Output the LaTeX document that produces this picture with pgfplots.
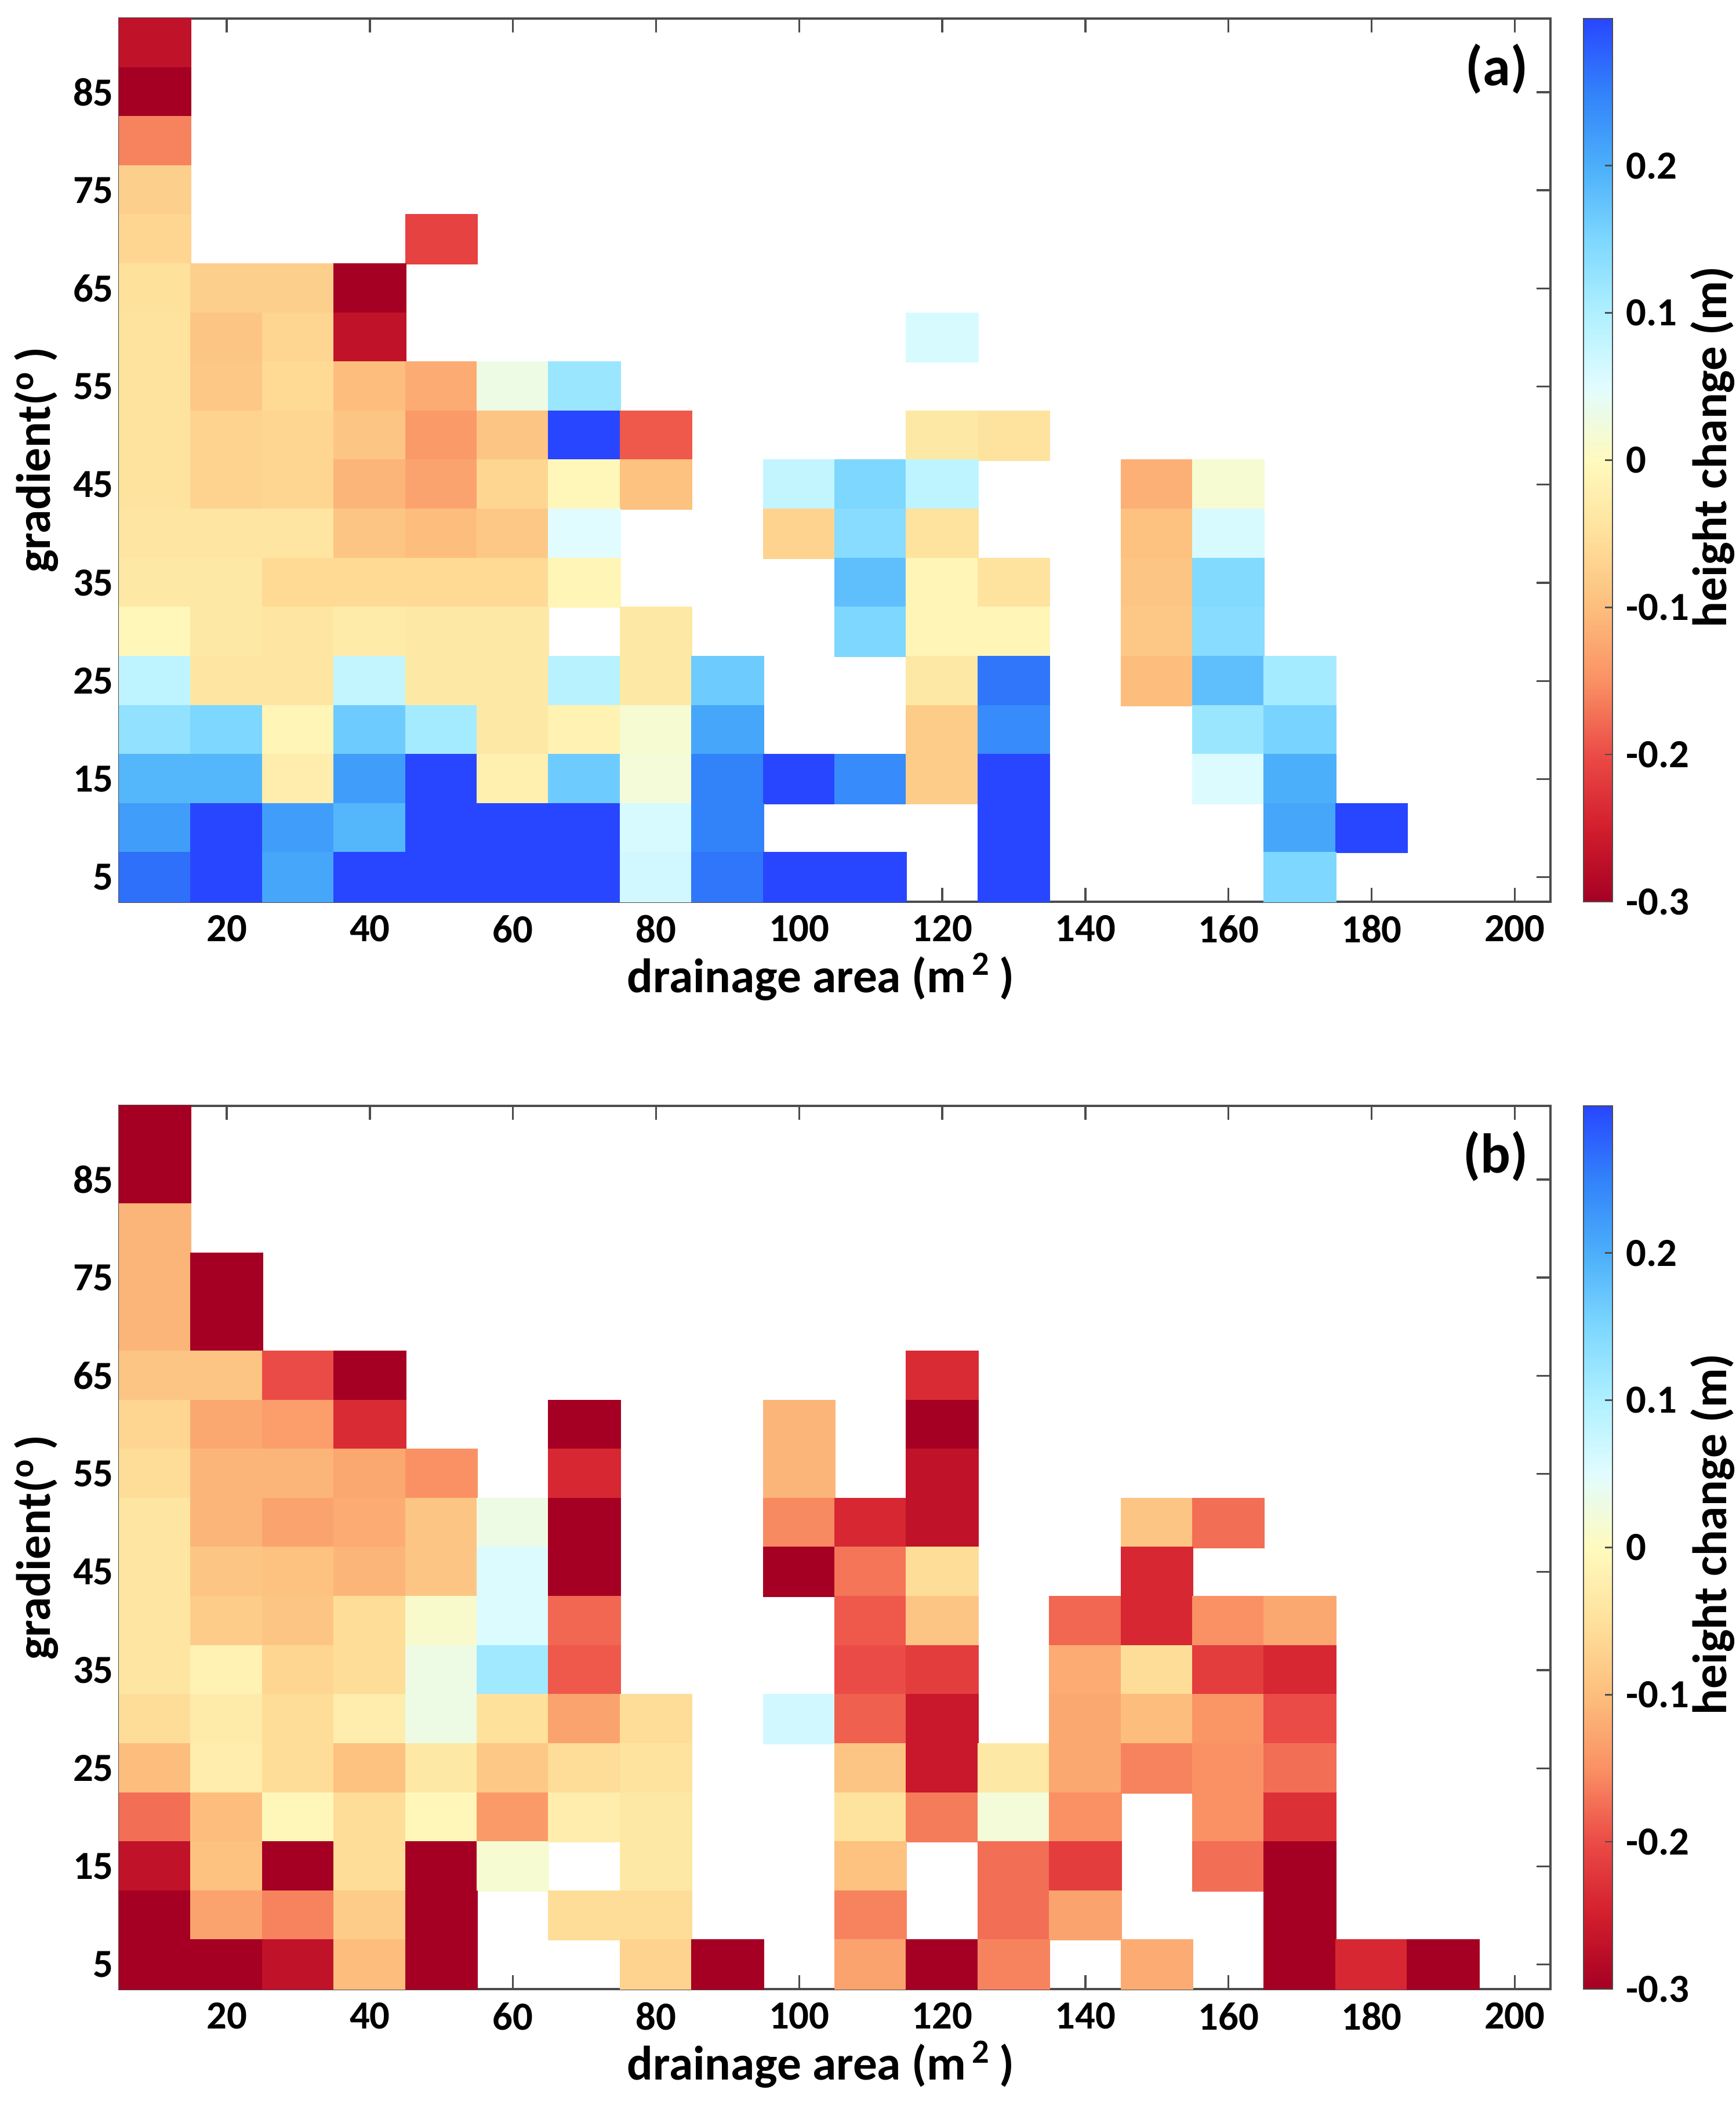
\documentclass[border=0pt]{standalone}
\usepackage{fontspec}
\setmainfont{Carlito}
\usepackage{pgfplots}
\pgfplotsset{compat=1.18}
\usepackage{pgfplotstable}

\pgfdeclareplotmark{cell}{\pgfpathrectanglecorners{\pgfpoint{-9.40pt}{-6.50pt}}{\pgfpoint{9.40pt}{6.50pt}}\pgfusepathqfill}

\pgfplotstableread{
x y c
10 90 -0.27
10 85 -0.30
10 80 -0.16
10 75 -0.075
10 70 -0.065
50 70 -0.21
10 65 -0.05
20 65 -0.075
30 65 -0.075
40 65 -0.30
10 60 -0.045
20 60 -0.09
30 60 -0.065
40 60 -0.27
120 60 0.06
10 55 -0.045
20 55 -0.085
30 55 -0.06
40 55 -0.10
50 55 -0.12
60 55 0.03
70 55 0.12
10 50 -0.045
20 50 -0.07
30 50 -0.065
40 50 -0.09
50 50 -0.14
60 50 -0.09
70 50 0.30
80 50 -0.19
120 50 -0.035
130 50 -0.045
10 45 -0.045
20 45 -0.07
30 45 -0.065
40 45 -0.11
50 45 -0.13
60 45 -0.065
70 45 -0.005
80 45 -0.095
100 45 0.08
110 45 0.15
120 45 0.085
150 45 -0.115
160 45 0.015
10 40 -0.04
20 40 -0.04
30 40 -0.04
40 40 -0.09
50 40 -0.10
60 40 -0.085
70 40 0.05
100 40 -0.07
110 40 0.14
120 40 -0.045
150 40 -0.095
160 40 0.06
10 35 -0.035
20 35 -0.035
30 35 -0.06
40 35 -0.06
50 35 -0.06
60 35 -0.06
70 35 -0.01
110 35 0.18
120 35 -0.01
130 35 -0.045
150 35 -0.09
160 35 0.145
10 30 -0.005
20 30 -0.035
30 30 -0.04
40 30 -0.03
50 30 -0.035
60 30 -0.035
80 30 -0.035
110 30 0.15
120 30 -0.01
130 30 -0.01
150 30 -0.085
160 30 0.14
10 25 0.085
20 25 -0.04
30 25 -0.04
40 25 0.08
50 25 -0.035
60 25 -0.035
70 25 0.09
80 25 -0.035
90 25 0.165
120 25 -0.035
130 25 0.26
150 25 -0.10
160 25 0.18
170 25 0.11
10 20 0.13
20 20 0.15
30 20 -0.01
40 20 0.165
50 20 0.11
60 20 -0.035
70 20 -0.015
80 20 0.015
90 20 0.21
120 20 -0.08
130 20 0.24
160 20 0.12
170 20 0.155
10 15 0.19
20 15 0.19
30 15 -0.025
40 15 0.22
50 15 0.30
60 15 -0.02
70 15 0.165
80 15 0.02
90 15 0.25
100 15 0.30
110 15 0.24
120 15 -0.08
130 15 0.30
160 15 0.055
170 15 0.20
10 10 0.22
20 10 0.30
30 10 0.22
40 10 0.19
50 10 0.30
60 10 0.30
70 10 0.30
80 10 0.06
90 10 0.25
130 10 0.30
170 10 0.21
180 10 0.30
10 5 0.265
20 5 0.30
30 5 0.21
40 5 0.30
50 5 0.30
60 5 0.30
70 5 0.30
80 5 0.065
90 5 0.26
100 5 0.30
110 5 0.30
130 5 0.30
170 5 0.15
}\dataA

\pgfplotstableread{
x y c
10 90 -0.30
10 85 -0.30
10 80 -0.11
10 75 -0.11
20 75 -0.30
10 70 -0.11
20 70 -0.30
10 65 -0.09
20 65 -0.09
30 65 -0.20
40 65 -0.30
120 65 -0.235
10 60 -0.065
20 60 -0.125
30 60 -0.135
40 60 -0.235
70 60 -0.30
100 60 -0.11
120 60 -0.30
10 55 -0.055
20 55 -0.11
30 55 -0.11
40 55 -0.125
50 55 -0.15
70 55 -0.24
100 55 -0.11
120 55 -0.27
10 50 -0.04
20 50 -0.11
30 50 -0.13
40 50 -0.12
50 50 -0.09
60 50 0.03
70 50 -0.30
100 50 -0.155
110 50 -0.24
120 50 -0.27
150 50 -0.09
160 50 -0.175
10 45 -0.04
20 45 -0.09
30 45 -0.095
40 45 -0.11
50 45 -0.09
60 45 0.055
70 45 -0.30
100 45 -0.30
110 45 -0.17
120 45 -0.055
150 45 -0.24
10 40 -0.04
20 40 -0.08
30 40 -0.09
40 40 -0.055
50 40 0.01
60 40 0.055
70 40 -0.18
110 40 -0.19
120 40 -0.09
140 40 -0.18
150 40 -0.24
160 40 -0.15
170 40 -0.125
10 35 -0.04
20 35 -0.015
30 35 -0.065
40 35 -0.055
50 35 0.03
60 35 0.115
70 35 -0.19
110 35 -0.20
120 35 -0.215
140 35 -0.12
150 35 -0.055
160 35 -0.215
170 35 -0.24
10 30 -0.055
20 30 -0.03
30 30 -0.055
40 30 -0.025
50 30 0.03
60 30 -0.05
70 30 -0.13
80 30 -0.055
100 30 0.065
110 30 -0.185
120 30 -0.26
140 30 -0.125
150 30 -0.10
160 30 -0.145
170 30 -0.20
10 25 -0.10
20 25 -0.025
30 25 -0.055
40 25 -0.095
50 25 -0.035
60 25 -0.085
70 25 -0.055
80 25 -0.045
110 25 -0.09
120 25 -0.26
130 25 -0.035
140 25 -0.125
150 25 -0.16
160 25 -0.15
170 25 -0.175
10 20 -0.175
20 20 -0.10
30 20 -0.005
40 20 -0.055
50 20 -0.005
60 20 -0.14
70 20 -0.025
80 20 -0.035
110 20 -0.045
120 20 -0.165
130 20 0.02
140 20 -0.15
160 20 -0.15
170 20 -0.23
10 15 -0.27
20 15 -0.095
30 15 -0.30
40 15 -0.055
50 15 -0.30
60 15 0.015
80 15 -0.035
110 15 -0.095
130 15 -0.175
140 15 -0.215
160 15 -0.175
170 15 -0.30
10 10 -0.30
20 10 -0.13
30 10 -0.16
40 10 -0.08
50 10 -0.30
70 10 -0.055
80 10 -0.055
110 10 -0.16
130 10 -0.175
140 10 -0.13
170 10 -0.30
10 5 -0.30
20 5 -0.30
30 5 -0.27
40 5 -0.10
50 5 -0.30
80 5 -0.07
90 5 -0.30
110 5 -0.13
120 5 -0.30
130 5 -0.16
150 5 -0.12
170 5 -0.30
180 5 -0.24
190 5 -0.30
}\dataB

\pgfplotsset{
  colormap={hc}{rgb255(0cm)=(165,0,35); rgb255(1cm)=(210,30,45); rgb255(2cm)=(235,75,70); rgb255(3cm)=(250,145,100); rgb255(4cm)=(253,190,125); rgb255(5cm)=(254,225,155); rgb255(6cm)=(255,250,190); rgb255(7cm)=(225,252,255); rgb255(8cm)=(175,240,255); rgb255(9cm)=(125,215,255); rgb255(10cm)=(75,175,250); rgb255(11cm)=(50,130,250); rgb255(12cm)=(40,70,255)},
  colorbar shift/.style={},
  hmap/.style={
    scale only axis, width=370.2pt, height=228.45pt,
    xmin=5, xmax=205, ymin=2.5, ymax=92.5,
    xtick={20,40,...,200}, ytick={5,15,...,85},
    tick align=inside, major tick length=3.6pt,
    axis line style={draw=black!70, line width=0.5pt},
    tick style={draw=black!70, line width=0.5pt},
    tick label style={font=\fontsize{10.3}{11}\selectfont\bfseries},
    yticklabel style={xshift=2pt},
    /pgf/number format/assume math mode=true,
    label style={font=\fontsize{12.5}{14}\selectfont\bfseries},
    xlabel={drainage area (m\textsuperscript{\,2}\,)},
    ylabel={gradient(\textsuperscript{o}\,)},
    xlabel style={at={(axis description cs:0.49,-0.085)}, anchor=center},
    ylabel style={at={(axis description cs:-0.058,0.5)}, anchor=center},
    colormap name=hc,
    point meta min=-0.3, point meta max=0.3,
    colorbar right,
    colorbar style={
      at={([xshift=4.2pt]parent axis.north east)}, anchor=north west,
      width=7.5pt,
      ytick={-0.3,-0.2,-0.1,0,0.1,0.2},
      yticklabels={-0.3,-0.2,-0.1,0,0.1,0.2},
      ytick pos=right, yticklabel pos=right,
      tick align=inside, major tick length=2pt,
      axis line style={draw=black!70, line width=0.4pt},
      tick style={draw=black!70, line width=0.4pt},
      yticklabel style={font=\fontsize{10.3}{11}\selectfont\bfseries, anchor=west, xshift=0pt},
      ylabel={height change (m)},
      ylabel style={font=\fontsize{12.5}{14}\selectfont\bfseries, at={(axis description cs:4.46,0.515)}, anchor=center},
    },
    axis on top,
  },
}

\begin{document}
\begin{tikzpicture}
\useasboundingbox (0,0) rectangle (449pt,543.45pt);
\begin{axis}[hmap, at={(30.9pt,310.2pt)}, anchor=south west]
\addplot[scatter, only marks, mark=cell, scatter src=explicit] table[x=x, y=y, meta=c] {\dataA};
\node[anchor=north east, inner sep=0pt, font=\fontsize{14.5}{16}\selectfont\bfseries] at (rel axis cs:0.985,0.972) {(a)};
\end{axis}
\begin{axis}[hmap, at={(30.9pt,28.95pt)}, anchor=south west]
\addplot[scatter, only marks, mark=cell, scatter src=explicit] table[x=x, y=y, meta=c] {\dataB};
\node[anchor=north east, inner sep=0pt, font=\fontsize{14.5}{16}\selectfont\bfseries] at (rel axis cs:0.985,0.972) {(b)};
\end{axis}
\end{tikzpicture}
\end{document}
